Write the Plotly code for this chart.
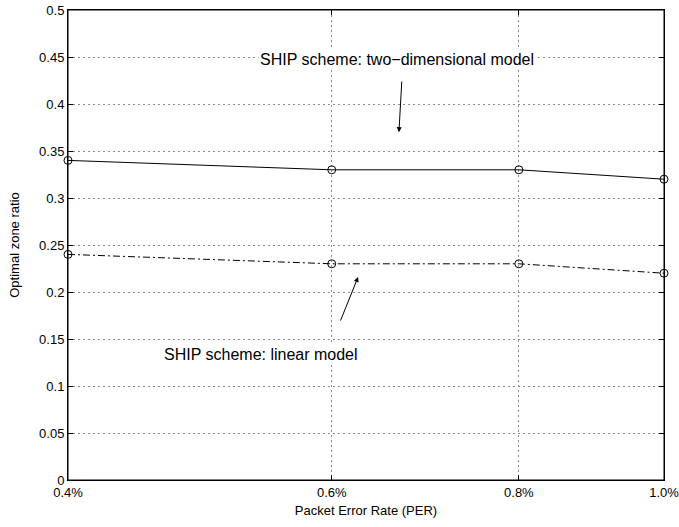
import math
import plotly.graph_objects as go

per = [0.4, 0.6, 0.8, 1.0]
per_labels = ["0.4%", "0.6%", "0.8%", "1.0%"]
two_dim = [0.34, 0.33, 0.33, 0.32]
linear = [0.24, 0.23, 0.23, 0.22]
y_ticks = [0, 0.05, 0.1, 0.15, 0.2, 0.25, 0.3, 0.35, 0.4, 0.45, 0.5]
y_labels = ["0", "0.05", "0.1", "0.15", "0.2", "0.25", "0.3", "0.35", "0.4", "0.45", "0.5"]

font = "Liberation Sans, Arial, Helvetica, sans-serif"

fig = go.Figure()
fig.add_trace(go.Scatter(x=per, y=two_dim, mode="lines+markers",
                         line=dict(color="black", width=1, dash="solid"),
                         marker=dict(symbol="circle-open", size=8, color="black", line=dict(width=1)),
                         cliponaxis=False, showlegend=False))
fig.add_trace(go.Scatter(x=per, y=linear, mode="lines+markers",
                         line=dict(color="black", width=1, dash="7px,3px,2px,3px"),
                         marker=dict(symbol="circle-open", size=8, color="black", line=dict(width=1)),
                         cliponaxis=False, showlegend=False))

grid = dict(showgrid=True, gridcolor="#8c8c8c", griddash="1.5px,3.5px", gridwidth=1,
            showline=True, linecolor="black", linewidth=1, mirror="ticks",
            ticks="inside", ticklen=5, tickcolor="black", zeroline=False,
            tickfont=dict(size=13), automargin=False, ticklabeloverflow="allow")

fig.update_layout(
    width=679, height=527, autosize=False,
    margin=dict(l=68, r=15, t=10, b=47, autoexpand=False),
    paper_bgcolor="white", plot_bgcolor="white",
    font=dict(family=font, size=13, color="black"),
    xaxis=dict(type="log", range=[math.log10(0.4), math.log10(1.0)],
               tickvals=per, ticktext=per_labels,
               title=dict(text="Packet Error Rate (PER)", font=dict(size=13), standoff=7),
               **grid),
    yaxis=dict(range=[0, 0.5], tickvals=y_ticks, ticktext=y_labels,
               title=dict(text="Optimal zone ratio", font=dict(size=13), standoff=16),
               **grid),
)

fig.add_shape(type="rect", xref="paper", yref="paper", x0=0, y0=0, x1=1, y1=1,
              line=dict(color="black", width=1), layer="above")

fig.add_annotation(x=math.log10(0.663), y=0.447, xref="x", yref="y",
                   text="SHIP scheme: two−dimensional model", showarrow=False,
                   font=dict(size=16), bgcolor="white")
fig.add_annotation(x=math.log10(0.6653), y=0.370, ax=math.log10(0.6683), ay=0.4255,
                   xref="x", yref="y", axref="x", ayref="y",
                   text="", showarrow=True, arrowhead=2, arrowsize=1, arrowwidth=1, arrowcolor="black")
fig.add_annotation(x=math.log10(0.5385), y=0.133, xref="x", yref="y",
                   text="SHIP scheme: linear model", showarrow=False,
                   font=dict(size=16), bgcolor="white")
fig.add_annotation(x=math.log10(0.6248), y=0.216, ax=math.log10(0.6076), ay=0.168,
                   xref="x", yref="y", axref="x", ayref="y",
                   text="", showarrow=True, arrowhead=2, arrowsize=1, arrowwidth=1, arrowcolor="black")

fig.write_html("out.html", config={"displayModeBar": False},
               post_script="document.body.style.margin='0';document.body.style.overflow='hidden';")
